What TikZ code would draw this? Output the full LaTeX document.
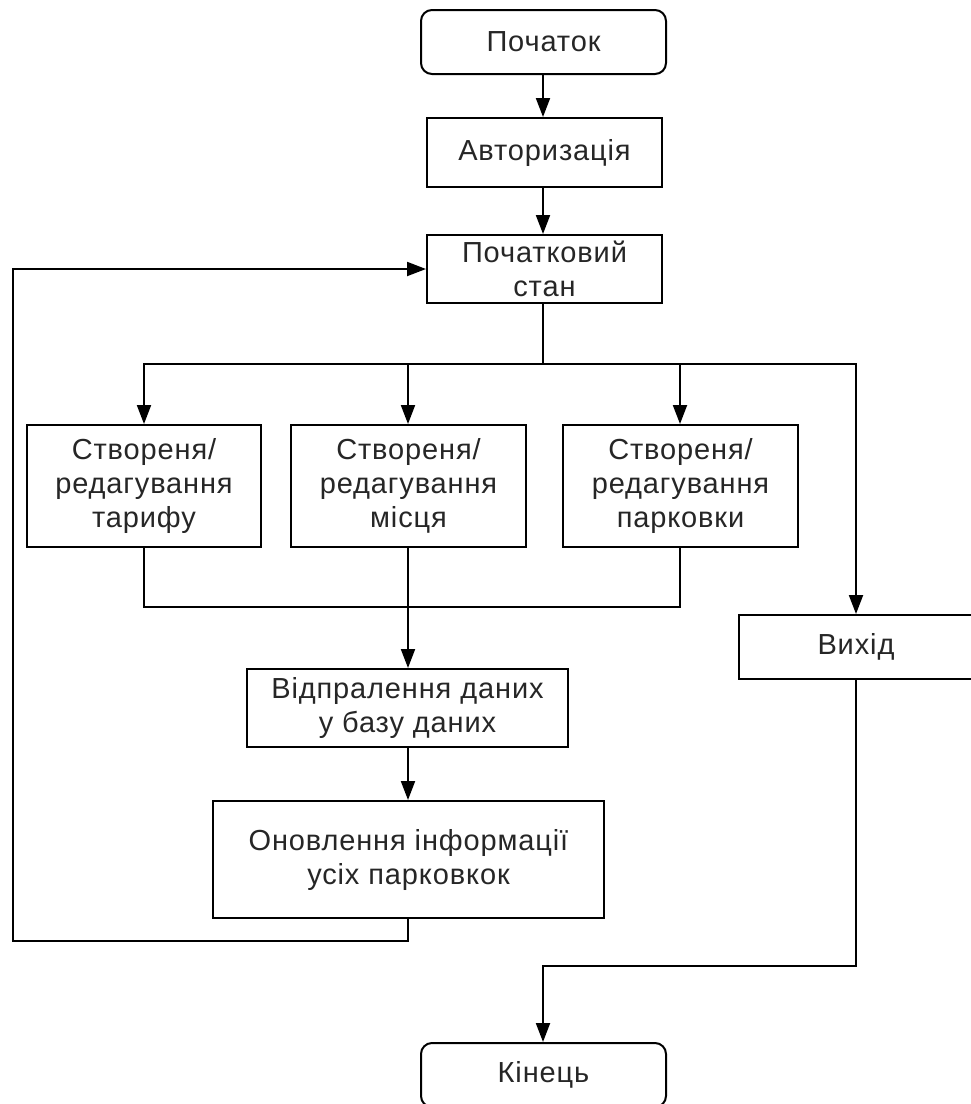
\documentclass[tikz,border=0pt]{standalone}
\usepackage{fontspec}
\setmainfont[LetterSpace=3]{Liberation Sans}
\usetikzlibrary{arrows.meta}
\begin{document}
\begin{tikzpicture}[x=1pt,y=-1pt,
  every node/.style={font=\fontsize{29}{34}\selectfont, align=center, inner sep=0pt, text=black!85},
  box/.style={draw=black, line width=2pt, rectangle},
  term/.style={draw=black, line width=2pt, rectangle, rounded corners=11pt},
  conn/.style={line width=2pt},
  arr/.style={conn, -{Triangle[length=19pt,width=14pt]}}]
\useasboundingbox (0,0) rectangle (971,1104);
\node[term, minimum width=245pt, minimum height=64pt] (start) at (543.5,42) {Початок};
\node[box, minimum width=235pt, minimum height=69pt] (auth) at (544.5,152.5) {Авторизація};
\node[box, minimum width=235pt, minimum height=68pt] (init) at (544.5,269) {Початковий\\стан};
\node[box, minimum width=234pt, minimum height=122pt] (tariff) at (144,486) {Створеня/\\редагування\\тарифу};
\node[box, minimum width=235pt, minimum height=122pt] (place) at (408.5,486) {Створеня/\\редагування\\місця};
\node[box, minimum width=235pt, minimum height=122pt] (park) at (680.5,486) {Створеня/\\редагування\\парковки};
\node[box, minimum width=234pt, minimum height=64pt] (exit) at (856,647) {Вихід};
\node[box, minimum width=321pt, minimum height=78pt] (send) at (407.5,708) {Відпралення даних\\у базу даних};
\node[box, minimum width=391pt, minimum height=117pt] (upd) at (408.5,859.5) {Оновлення інформації\\усіх парковкок};
\node[term, minimum width=245pt, minimum height=64pt] (end) at (543.5,1075) {Кінець};

\coordinate (split) at (543,364);
\coordinate (merge) at (408,607);
\coordinate (loopa) at (13,941);
\coordinate (exitb) at (856,966);

\draw[arr] (start.south -| 543,0) -- (auth.north -| 543,0);
\draw[arr] (auth.south -| 543,0) -- (init.north -| 543,0);
\draw[conn] (init.south -| split) -- (split);
\draw[arr] (split) -| (tariff.north);
\draw[arr] (split) -| (place.north -| 408,0);
\draw[arr] (split) -| (park.north -| 680,0);
\draw[arr] (split) -| (exit.north);
\draw[conn] (tariff.south) |- (merge);
\draw[conn] (park.south -| 680,0) |- (merge);
\draw[arr] (place.south -| 408,0) -- (send.north -| 408,0);
\draw[arr] (send.south -| 408,0) -- (upd.north -| 408,0);
\draw[arr] (upd.south -| 408,0) |- (loopa) |- (init.west);
\draw[arr] (exit.south) -- (exitb) -| (end.north -| 543,0);
\end{tikzpicture}
\end{document}
